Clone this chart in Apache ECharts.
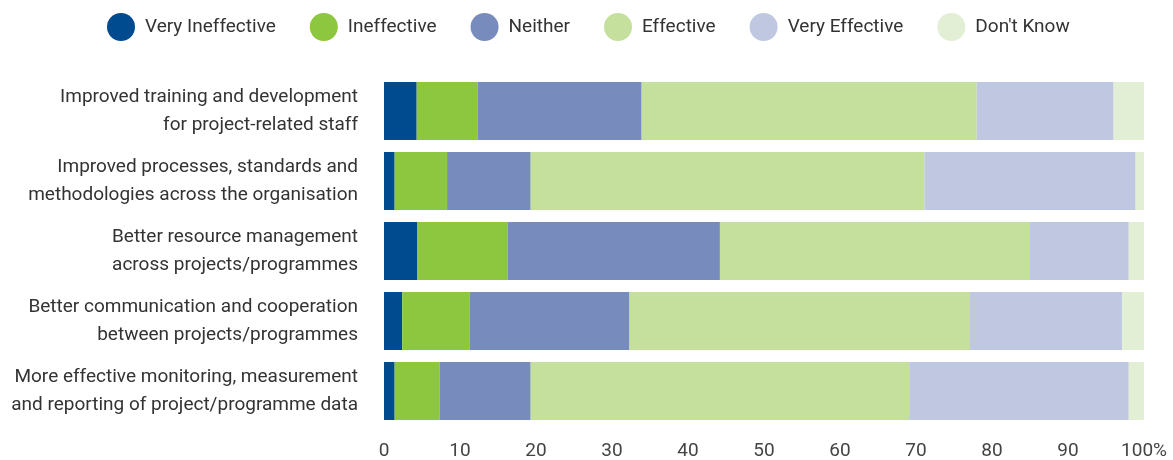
<!DOCTYPE html>
<html>
<head>
<meta charset="utf-8">
<script src="https://cdn.jsdelivr.net/npm/echarts@6/dist/echarts.min.js"></script>
<style>
html,body{margin:0;padding:0;background:#fff;}
#chart{width:1173px;height:460px;}
</style>
</head>
<body>
<div id="chart"></div>
<script>
const categories = [
  "Improved training and development\nfor project-related staff",
  "Improved processes, standards and\nmethodologies across the organisation",
  "Better resource management\nacross projects/programmes",
  "Better communication and cooperation\nbetween projects/programmes",
  "More effective monitoring, measurement\nand reporting of project/programme data"
];
const seriesNames = ["Very Ineffective", "Ineffective", "Neither", "Effective", "Very Effective", "Don't Know"];
const veryIneffective = [4.3, 1.4, 4.4, 2.4, 1.4];
const ineffective     = [8.0, 6.9, 11.9, 8.9, 5.9];
const neither         = [21.6, 11.0, 27.9, 21.0, 12.0];
const effective       = [44.1, 51.8, 40.8, 44.8, 49.8];
const veryEffective   = [18.0, 27.8, 13.0, 20.0, 28.9];
const dontKnow        = [4.0, 1.1, 2.0, 2.9, 2.0];
const xTicks = [0, 10, 20, 30, 40, 50, 60, 70, 80, 90, 100];

const colors = ["#004a8f", "#8dc63f", "#788bbd", "#c5df9d", "#c0c8e1", "#e2efd5"];
const values = [veryIneffective, ineffective, neither, effective, veryEffective, dontKnow];
const FONT = "Roboto, sans-serif";

const chart = echarts.init(document.getElementById('chart'), null, {renderer: 'canvas'});
chart.setOption({
  animation: false,
  color: colors,
  legend: {
    top: 13,
    left: 107,
    padding: 0,
    icon: 'circle',
    itemWidth: 28,
    itemHeight: 28,
    itemGap: 34,
    data: seriesNames,
    textStyle: {fontFamily: FONT, fontSize: 19, color: '#333', padding: [0, 0, 0, 5]}
  },
  grid: {left: 384, right: 29, top: 76, bottom: 34, containLabel: false, outerBoundsMode: 'none'},
  xAxis: {
    type: 'value', min: 0, max: 100, interval: 10,
    axisLine: {show: false}, axisTick: {show: false}, splitLine: {show: false},
    axisLabel: {
      fontFamily: FONT, fontSize: 19, color: '#444', margin: 16,
      formatter: v => (v === 100 ? '100%' : String(v))
    }
  },
  yAxis: {
    type: 'category', data: categories, inverse: true,
    axisLine: {show: false}, axisTick: {show: false},
    axisLabel: {fontFamily: FONT, fontSize: 19, color: '#333', margin: 26, lineHeight: 28, align: 'right'}
  },
  series: seriesNames.map((n, i) => ({
    name: n, type: 'bar', stack: 'total', barWidth: 58,
    data: values[i],
    itemStyle: {color: colors[i]}
  }))
});
</script>
</body>
</html>
